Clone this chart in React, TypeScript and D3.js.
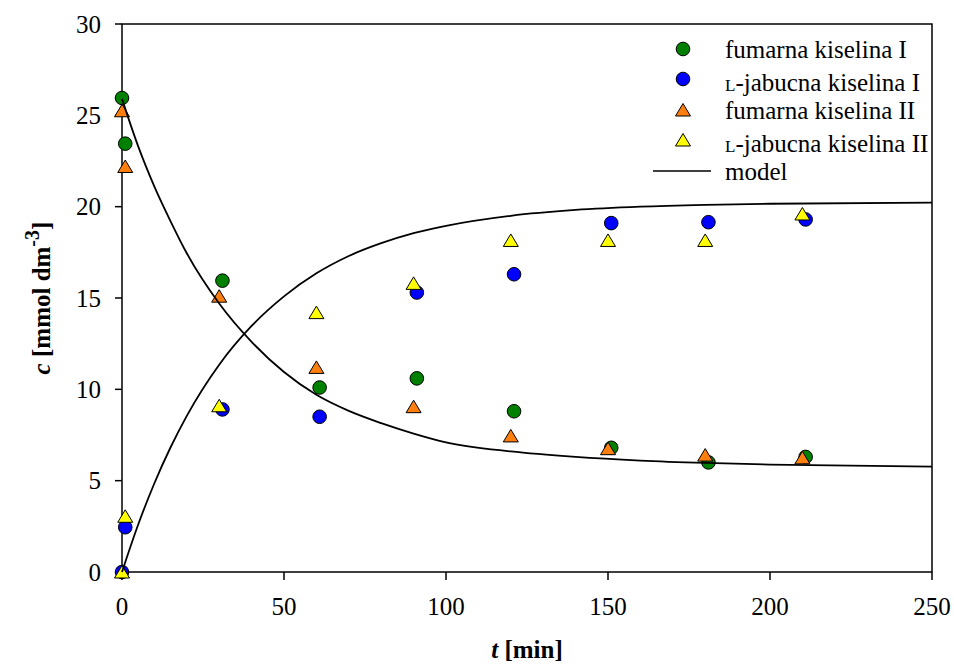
import React from "react";
import * as d3 from "d3";

const xTicks = [0, 50, 100, 150, 200, 250];
const yTicks = [0, 5, 10, 15, 20, 25, 30];

const tCircles = [0, 1, 31, 61, 91, 121, 151, 181, 211];
const tTriangles = [0, 1, 30, 60, 90, 120, 150, 180, 210];

const fumarnaI = [25.95, 23.45, 15.95, 10.1, 10.6, 8.8, 6.8, 6.0, 6.3];
const jabucnaI = [0, 2.45, 8.9, 8.5, 15.3, 16.3, 19.1, 19.15, 19.3];
const fumarnaII = [25.25, 22.2, 15.1, 11.2, 9.05, 7.45, 6.75, 6.4, 6.25];
const jabucnaII = [0, 3.05, 9.1, 14.2, 15.8, 18.15, 18.15, 18.15, 19.6];

const modelT = [0, 5, 10, 15, 20, 30, 40, 50, 60, 70, 80, 90, 100, 120, 140, 160, 180, 200, 250];
const modelFum = [25.9, 23.3, 21.1, 19.2, 17.45, 14.7, 12.6, 10.95, 9.7, 8.82, 8.15, 7.58, 7.1, 6.6, 6.3, 6.1, 5.97, 5.88, 5.77];
const modelJab = [0, 2.6, 4.86, 6.83, 8.55, 11.35, 13.47, 15.09, 16.35, 17.3, 18.0, 18.55, 18.95, 19.5, 19.82, 20.0, 20.1, 20.16, 20.22];

const seriesNames = ["fumarna kiselina I", "-jabucna kiselina I", "fumarna kiselina II", "-jabucna kiselina II", "model"];

const W = 954;
const H = 668;
const left = 122;
const right = 932;
const top = 24;
const bottom = 572;

const FONT = "Liberation Serif, Times New Roman, serif";
const FS = 25;

export default function App() {
  const x = d3.scaleLinear().domain([0, 250]).range([left, right]);
  const y = d3.scaleLinear().domain([0, 30]).range([bottom, top]);

  const line = d3
    .line<number>()
    .x((_, i) => x(modelT[i]))
    .y((d) => y(d))
    .curve(d3.curveMonotoneX);

  const tri = (cx: number, cy: number) =>
    `M${cx},${cy - 6.5}L${cx + 7.5},${cy + 6}L${cx - 7.5},${cy + 6}Z`;

  const green = "#008000";
  const blue = "#0000ff";
  const orange = "#ff7f0e";
  const yellow = "#ffff00";

  const legendX = 683;
  const legendTextX = 725;
  const legendRows = [49, 79, 110, 140, 171];

  const ts = { fontFamily: FONT };

  return (
    <svg
      width={W}
      height={H}
      style={{ position: "fixed", left: 0, top: 0, background: "#fff", fontFamily: FONT }}
    >
      <rect x={0} y={0} width={W} height={H} fill="#fff" />
      <rect x={left} y={top} width={right - left} height={bottom - top} fill="none" stroke="#000" strokeWidth={1.5} />
      {yTicks.map((t) => (
        <g key={"y" + t}>
          <line x1={left - 7} x2={left} y1={y(t)} y2={y(t)} stroke="#000" strokeWidth={1.5} />
          <text x={left - 21} y={y(t)} dy="0.35em" textAnchor="end" fontSize={FS} style={ts}>
            {t}
          </text>
        </g>
      ))}
      {xTicks.map((t) => (
        <g key={"x" + t}>
          <line x1={x(t)} x2={x(t)} y1={bottom} y2={bottom + 8} stroke="#000" strokeWidth={1.5} />
          <text x={x(t)} y={bottom + 34} dy="0.35em" textAnchor="middle" fontSize={FS} style={ts}>
            {t}
          </text>
        </g>
      ))}
      <text x={(left + right) / 2} y={658} textAnchor="middle" fontSize={FS} fontWeight="bold" style={ts}>
        <tspan fontStyle="italic">t</tspan> [min]
      </text>
      <text transform={`translate(50,${(top + bottom) / 2}) rotate(-90)`} textAnchor="middle" fontSize={FS} fontWeight="bold" style={ts}>
        <tspan fontStyle="italic">c</tspan> [mmol dm
        <tspan dy={-11} fontSize={20}>-3</tspan>
        <tspan dy={11}>]</tspan>
      </text>

      {fumarnaI.map((c, i) => (
        <circle key={"g" + i} cx={x(tCircles[i])} cy={y(c)} r={6.8} fill={green} stroke="#000" strokeWidth={1} />
      ))}
      {jabucnaI.map((c, i) => (
        <circle key={"b" + i} cx={x(tCircles[i])} cy={y(c)} r={6.8} fill={blue} stroke="#000" strokeWidth={1} />
      ))}
      {fumarnaII.map((c, i) => (
        <path key={"o" + i} d={tri(x(tTriangles[i]), y(c))} fill={orange} stroke="#000" strokeWidth={1} />
      ))}
      {jabucnaII.map((c, i) => (
        <path key={"yl" + i} d={tri(x(tTriangles[i]), y(c))} fill={yellow} stroke="#000" strokeWidth={1} />
      ))}

      <path d={line(modelFum) || ""} fill="none" stroke="#000" strokeWidth={1.8} />
      <path d={line(modelJab) || ""} fill="none" stroke="#000" strokeWidth={1.8} />

      <circle cx={legendX} cy={legendRows[0]} r={6.8} fill={green} stroke="#000" strokeWidth={1} />
      <circle cx={legendX} cy={legendRows[1]} r={6.8} fill={blue} stroke="#000" strokeWidth={1} />
      <path d={tri(legendX, legendRows[2])} fill={orange} stroke="#000" strokeWidth={1} />
      <path d={tri(legendX, legendRows[3])} fill={yellow} stroke="#000" strokeWidth={1} />
      <line x1={653} x2={711} y1={legendRows[4]} y2={legendRows[4]} stroke="#000" strokeWidth={1.5} />
      {seriesNames.map((n, i) => (
        <text key={"l" + i} x={legendTextX} y={legendRows[i] + (i === 1 || i === 3 ? 3 : 0)} dy="0.35em" fontSize={FS} style={ts}>
          {i === 1 || i === 3 ? <tspan fontSize={17}>L</tspan> : null}
          {n}
        </text>
      ))}
    </svg>
  );
}
